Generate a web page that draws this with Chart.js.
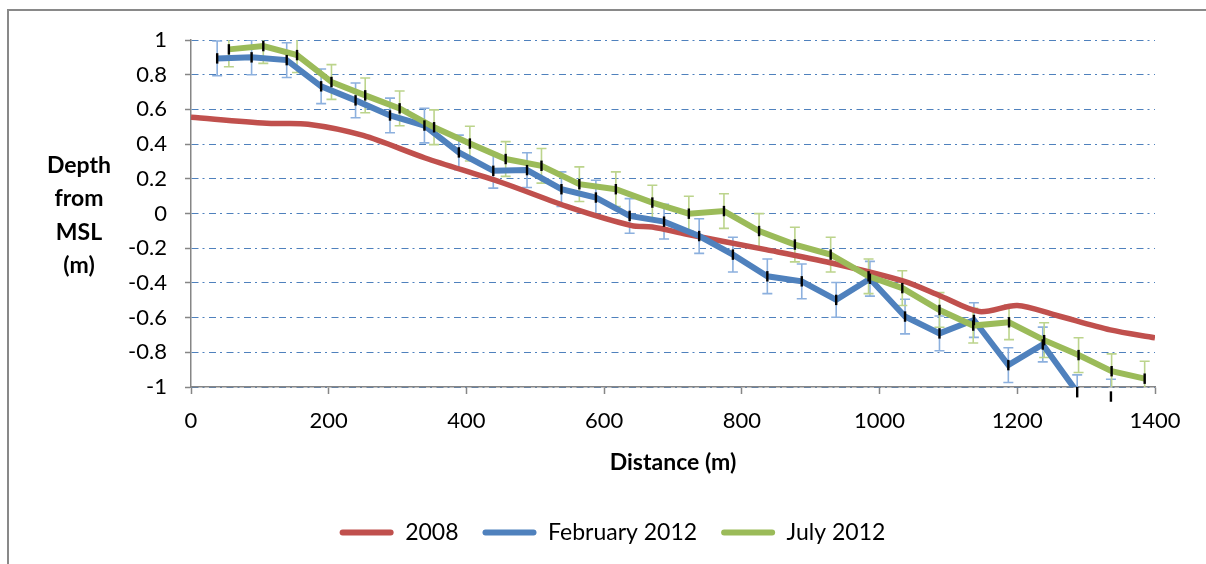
<!DOCTYPE html>
<html>
<head>
<meta charset="utf-8">
<title>Beach profile</title>
<script src="https://cdn.jsdelivr.net/npm/chart.js@4"></script>
<style>
  html, body { margin: 0; padding: 0; background: #fff; }
  #wrap { width: 1206px; height: 564px; position: relative; }
</style>
</head>
<body>
<div id="wrap"><canvas id="profile"></canvas></div>
<script>
// survey 2008 (smoothed profile)
const DIST_2008 = [0, 110, 170, 250, 340, 450, 550, 640, 670, 720, 835, 930, 1035, 1090, 1145, 1200, 1255, 1335, 1400];
const DEPTH_2008 = [0.555, 0.52, 0.515, 0.45, 0.32, 0.18, 0.035, -0.07, -0.078, -0.12, -0.208, -0.285, -0.39, -0.478, -0.565, -0.53, -0.585, -0.671, -0.716];

// February 2012 survey
const DIST_FEB = [38, 88, 139, 189, 239, 289, 339, 389, 439, 488, 538, 588, 637, 687, 738, 787, 837, 887, 937, 986, 1037, 1087, 1137, 1187, 1237, 1287, 1336];
const DEPTH_FEB = [0.894, 0.90, 0.884, 0.733, 0.652, 0.565, 0.507, 0.352, 0.246, 0.25, 0.14, 0.092, -0.014, -0.047, -0.13, -0.237, -0.362, -0.391, -0.498, -0.376, -0.594, -0.691, -0.614, -0.874, -0.755, -1.03, -1.055];

// July 2012 survey
const DIST_JUL = [55, 105, 154, 204, 253, 303, 353, 405, 457, 509, 564, 617, 670, 723, 774, 825, 877, 929, 984, 1033, 1087, 1136, 1188, 1239, 1289, 1337, 1385];
const DEPTH_JUL = [0.946, 0.965, 0.913, 0.758, 0.681, 0.606, 0.497, 0.403, 0.314, 0.275, 0.169, 0.14, 0.063, -0.001, 0.014, -0.101, -0.179, -0.237, -0.362, -0.43, -0.556, -0.646, -0.627, -0.73, -0.816, -0.909, -0.952];

// error bar half-widths (m)
const ERR_WIDE = 0.1;
const ERR_NARROW = 0.03;

const Y_TITLE = ["Depth", "from", "MSL", "(m)"];
const FONT = "Lato";

const pts = (xs, ys) => xs.map((x, i) => ({ x, y: ys[i] }));

// outer frame + horizontal y title
const decor = {
  id: "decor",
  beforeDraw(chart) {
    const { ctx, chartArea } = chart;
    ctx.save();
    ctx.strokeStyle = "#898989";
    ctx.lineWidth = 2;
    ctx.beginPath();
    ctx.moveTo(8, 564);
    ctx.lineTo(8, 10);
    ctx.lineTo(1206, 10);
    ctx.stroke();
    ctx.fillStyle = "#000";
    ctx.font = "bold 23px " + FONT;
    ctx.textAlign = "center";
    ctx.textBaseline = "middle";
    const mid = (chartArea.top + chartArea.bottom) / 2 + 2;
    const lh = 33.5;
    Y_TITLE.forEach((t, i) => {
      ctx.fillText(t, 79, mid + (i - (Y_TITLE.length - 1) / 2) * lh);
    });
    ctx.restore();
  }
};

function drawBars(chart, dsIndex, err, color, width, cap, clip) {
  const { ctx, chartArea, scales } = chart;
  const data = chart.data.datasets[dsIndex].data;
  ctx.save();
  if (clip) {
    ctx.beginPath();
    ctx.rect(chartArea.left, chartArea.top, chartArea.right - chartArea.left, chartArea.bottom - chartArea.top);
    ctx.clip();
  }
  ctx.strokeStyle = color;
  ctx.lineWidth = width;
  data.forEach(p => {
    const px = scales.x.getPixelForValue(p.x);
    const y1 = scales.y.getPixelForValue(p.y + err);
    const y2 = scales.y.getPixelForValue(p.y - err);
    ctx.beginPath();
    ctx.moveTo(px, y1);
    ctx.lineTo(px, y2);
    if (cap) {
      ctx.moveTo(px - cap, y1);
      ctx.lineTo(px + cap, y1);
      ctx.moveTo(px - cap, y2);
      ctx.lineTo(px + cap, y2);
    }
    ctx.stroke();
  });
  ctx.restore();
}

const errorBars = {
  id: "errorBars",
  beforeDatasetsDraw(chart) {
    drawBars(chart, 1, ERR_WIDE, "#8cb0de", 1.6, 5, true);
    drawBars(chart, 2, ERR_WIDE, "#bcd48c", 1.6, 5, true);
  },
  afterDatasetsDraw(chart) {
    drawBars(chart, 1, ERR_NARROW, "#000", 2.4, 0, false);
    drawBars(chart, 2, ERR_NARROW, "#000", 2.4, 0, false);
  }
};

new Chart(document.getElementById("profile"), {
  type: "line",
  data: {
    datasets: [
      {
        label: "2008",
        data: pts(DIST_2008, DEPTH_2008),
        borderColor: "#c0504d",
        backgroundColor: "#c0504d",
        borderWidth: 5.5,
        tension: 0.3,
        pointRadius: 0,
        order: 3
      },
      {
        label: "February 2012",
        data: pts(DIST_FEB, DEPTH_FEB),
        borderColor: "#4f81bd",
        backgroundColor: "#4f81bd",
        borderWidth: 6,
        tension: 0,
        pointRadius: 0,
        order: 2
      },
      {
        label: "July 2012",
        data: pts(DIST_JUL, DEPTH_JUL),
        borderColor: "#9bbb59",
        backgroundColor: "#9bbb59",
        borderWidth: 6,
        tension: 0,
        pointRadius: 0,
        order: 1
      }
    ]
  },
  options: {
    responsive: true,
    maintainAspectRatio: false,
    animation: false,
    layout: { padding: { left: 70, right: 51, top: 40, bottom: 10 } },
    plugins: {
      tooltip: { enabled: false },
      legend: {
        position: "bottom",
        labels: {
          font: { family: FONT, size: 23 },
          color: "#000",
          boxWidth: 54,
          boxHeight: 6,
          useBorderRadius: true,
          borderRadius: 3,
          padding: 24,
          generateLabels: chart => chart.data.datasets.map((ds, i) => ({
            text: ds.label,
            fillStyle: ds.borderColor,
            strokeStyle: ds.borderColor,
            lineWidth: 0,
            hidden: false,
            datasetIndex: i,
            borderRadius: 3
          }))
        }
      }
    },
    scales: {
      x: {
        type: "linear",
        min: 0,
        max: 1400,
        ticks: {
          stepSize: 200,
          color: "#000",
          font: { family: FONT, size: 22 },
          padding: 14,
          maxRotation: 0,
          callback: v => String(v)
        },
        grid: { drawOnChartArea: false, tickLength: 7, tickColor: "#868686", tickWidth: 1.5 },
        border: { color: "#868686", width: 1.5 },
        title: { display: true, text: "Distance (m)", color: "#000", font: { family: FONT, size: 23, weight: "bold" }, padding: { top: 0, bottom: 21 } }
      },
      y: {
        min: -1,
        max: 1,
        afterFit(scale) { scale.width = 121; },
        ticks: {
          stepSize: 0.2,
          color: "#000",
          font: { family: FONT, size: 22 },
          padding: 18,
          callback: v => String(Number(v.toFixed(1)))
        },
        grid: {
          color: "#4f81bd",
          lineWidth: 1,
          tickLength: 6,
          tickColor: "#868686",
          tickWidth: 1.5,
          tickBorderDash: []
        },
        border: { color: "#868686", width: 1.5, dash: [7, 4, 2, 4.5] }
      }
    }
  },
  plugins: [decor, errorBars]
});
</script>
</body>
</html>
